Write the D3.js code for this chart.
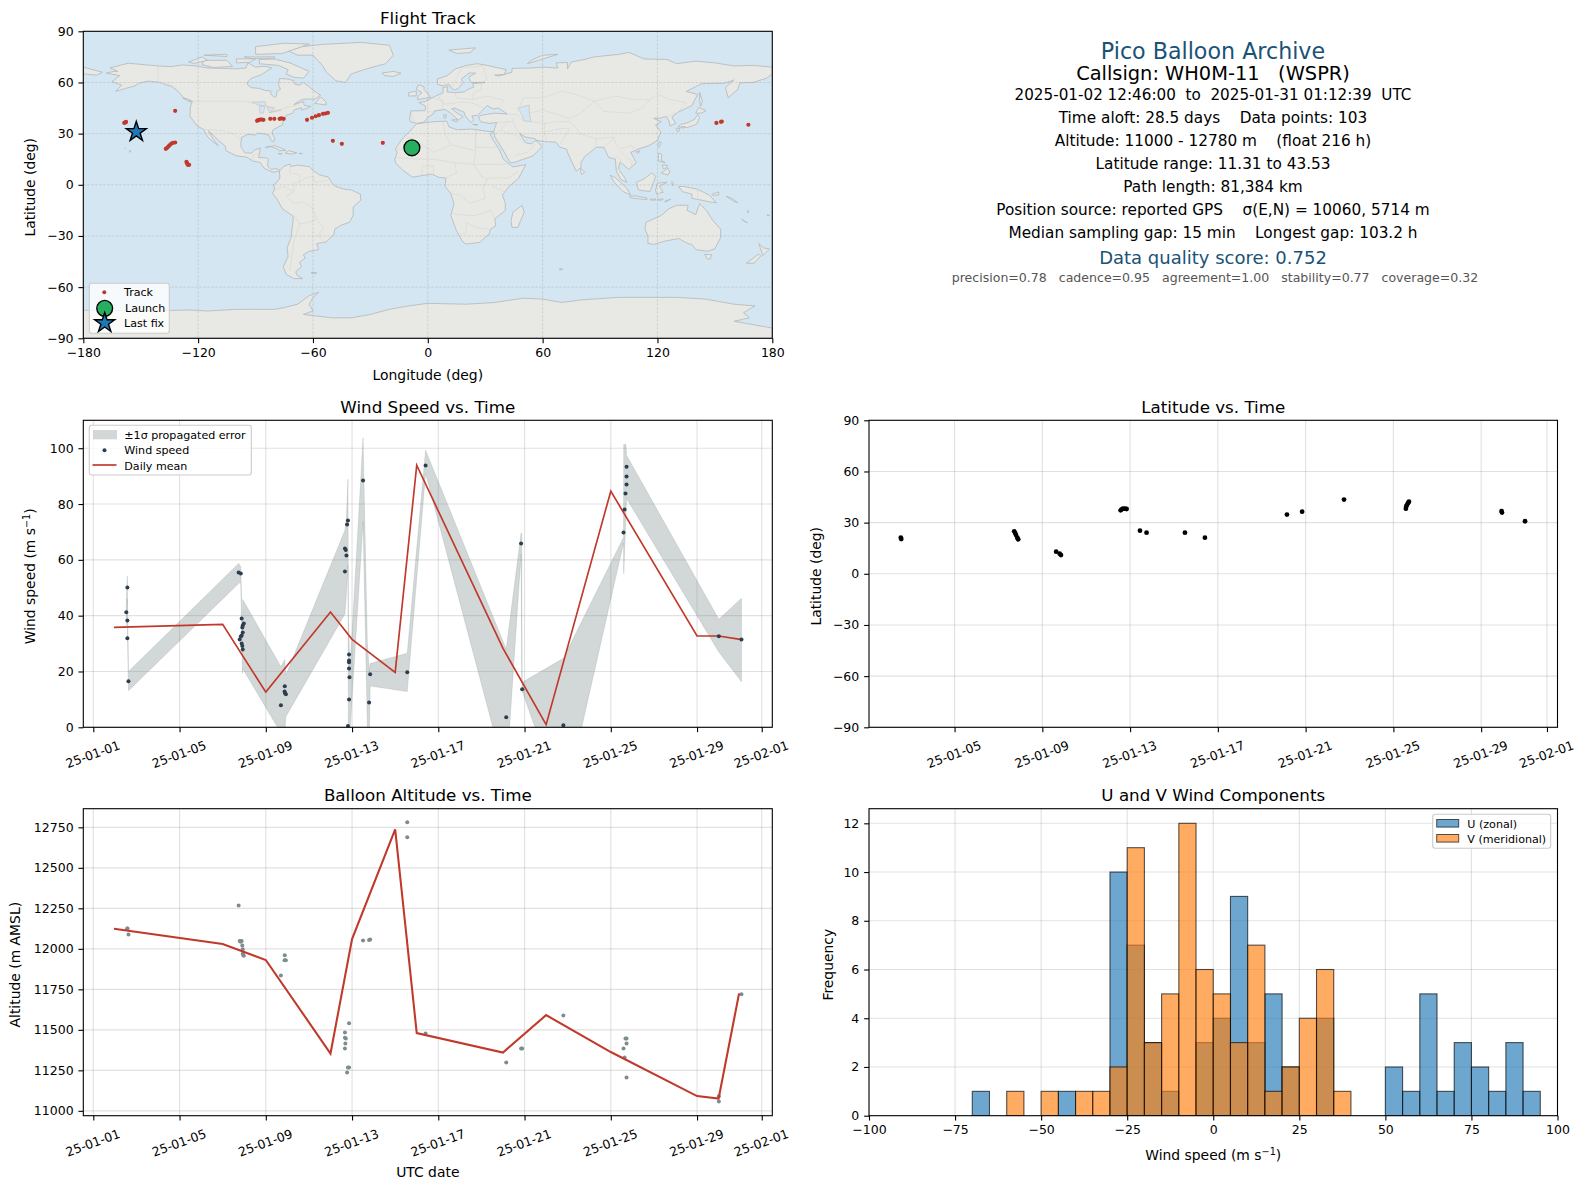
<!DOCTYPE html>
<html>
<head>
<meta charset="utf-8">
<script src="https://cdn.jsdelivr.net/npm/d3@7"></script>
<style>
  body { margin: 0; background: #fff; }
  svg text { font-family: "DejaVu Sans", sans-serif; fill: #000; }
  .tick text { font-size: 12.5px; }
  .tick line { stroke: #000; stroke-width: 1.1; }
</style>
</head>
<body>
<div id="chart"></div>
<script>
// all times are fractional days of January 2025 (32 = 1 Feb)
var trackLon = [-158.6, -157.9, -157.7, -132, -136.9, -136.2, -135.5, -134.8, -134, -133.1, -132, -126.1, -125.8, -125.4, -124.7,
    -89.2, -88.7, -88.1, -87.4, -86.7, -85.9, -82.3, -80.2, -77.4, -76.5, -75.3, -63.1, -60.5, -58.6, -56.9, -54.8, -53.6, -52.2,
    -49.6, -44.9, -23.5, 150.8, 153.2, 153.6, 167.5];
var trackLat = [36.3, 36.6, 36.9, 43.4, 21.1, 21.7, 22.5, 23.3, 24.2, 24.6, 24.8, 13.5, 12.7, 11.7, 11.7,
    37.5, 37.9, 38.1, 38.3, 38.3, 38.1, 38.7, 38.7, 38.7, 38.9, 38.7, 38.1, 39.3, 40.2, 40.8, 41.6, 41.8, 42.2,
    25.8, 24, 24.6, 36.3, 36.9, 37.1, 35.2];
var launchPos = [-8.3, 21.7];
var lastFixPos = [-152.3, 31];

var windDay = [2.58, 2.53, 2.58, 2.58, 2.63, 7.74, 7.84, 7.88, 7.98, 7.93, 7.91, 7.93, 7.88, 7.84, 7.79, 7.88, 7.91, 7.93,
    9.88, 9.87, 9.9, 9.93, 9.7, 12.67, 12.71, 12.74, 12.67, 12.77, 12.81, 12.86, 12.86, 12.86, 12.86, 12.88, 12.86, 12.81,
    13.51, 13.84, 13.79, 15.56, 16.41, 20.15, 20.84, 20.89, 22.8, 25.59, 25.64, 25.68, 25.73, 25.73, 25.73, 30.01, 31.06];
var windSpeed = [50.1, 41.2, 38.3, 31.9, 16.5, 55.5, 55.1, 39, 37.2, 36.5, 35.8, 34, 32.9, 32.5, 31.5, 30, 29.1, 27.9,
    14.7, 12.8, 12.2, 11.8, 7.9, 64.1, 63.5, 61.6, 55.8, 72.7, 74.1, 26.1, 23.9, 23.3, 21.1, 17.9, 10, 0.5,
    88.4, 19, 8.9, 19.7, 93.8, 3.6, 65.9, 13.6, 0.7, 69.8, 78, 83.8, 87, 89.9, 93.4, 32.6, 31.5];

// propagated error band outline
var bandDay = [2.53, 2.58, 2.59, 2.63, 7.74, 7.84, 7.88, 7.92, 7.93, 9.7, 9.88, 9.93, 12.67, 12.74, 12.81, 12.83, 12.86, 12.9,
    13.51, 13.71, 13.8, 13.84, 15.56, 16.41, 20.15, 20.84, 20.87, 20.89, 22.8, 25.59, 25.6, 25.7, 25.73, 30.01, 31.06];
var bandUpper = [46, 54.3, 43, 20, 58.7, 57.5, 43, 35, 45.8, 21.7, 24.3, 18.7, 70.6, 75.4, 88.9, 40, 33, 20,
    103.7, 30, 20, 22.9, 26.5, 99.3, 28, 69.7, 69, 16.1, 24.7, 68, 101.3, 101.3, 97.5, 38.7, 46.2];
var bandLower = [36.5, 45.9, 33, 13.1, 51.5, 52, 35, 19.3, 21, -2, -2, 3.8, 40.6, 48, 58, 0, -2, -2,
    73.6, 0, -5, 14.8, 12.8, 91, -18, 62, 17, 13, -29, 66, 55, 75, 82, 27, 16.3];

var meanDay = [1.96, 7, 9, 12, 13, 15, 16, 20, 22, 25, 29, 30, 31];
var meanWind = [35.8, 36.9, 12.6, 41.3, 31.5, 19.7, 93.9, 28.3, 0.95, 84.6, 32.7, 32.7, 31.5];
var meanAltDay = [1.96, 7, 9, 12, 13, 15, 16, 20, 22, 25, 29, 30, 30.95];
var meanAlt = [12124, 12030, 11931, 11354, 12060, 12738, 11480, 11360, 11591, 11363, 11091, 11076, 11725];

var altDay = [2.57, 2.59, 2.63, 7.74, 7.79, 7.88, 7.84, 7.91, 7.93, 7.95, 7.98, 7.93, 9.88, 9.87, 9.93, 9.7,
    12.86, 12.67, 12.67, 12.71, 12.69, 12.67, 12.86, 12.81, 12.77, 13.51, 13.79, 13.84, 15.56, 15.56, 16.41,
    20.15, 20.84, 20.89, 22.8, 25.68, 25.73, 25.73, 25.59, 25.64, 25.73, 30.01, 30.01, 31.06];
var altValue = [12126, 12126, 12089, 12268, 12048, 12048, 12044, 12021, 11997, 11962, 11957, 11970, 11960, 11929, 11929, 11836,
    11540, 11484, 11451, 11447, 11416, 11385, 11268, 11268, 11237, 12052, 12054, 12058, 12781, 12688, 11478,
    11299, 11385, 11385, 11589, 11447, 11447, 11416, 11385, 11330, 11206, 11090, 11058, 11719];

var latDay = [2.55, 2.57, 7.72, 7.76, 7.8, 7.86, 7.9, 9.63, 9.79, 9.85, 12.57, 12.62, 12.67, 12.76, 12.84, 13.45, 13.75, 15.5, 16.41,
    20.15, 20.84, 22.75, 25.57, 25.59, 25.63, 25.67, 25.71, 29.93, 29.95, 31];
var latValue = [21.2, 20.4, 24.9, 23.9, 22.8, 21.2, 20.2, 13, 11.8, 11, 37.2, 37.8, 38.2, 38.2, 38, 25.3, 24.1, 24.1, 21.2,
    34.7, 36.4, 43.5, 38.2, 39.6, 40.6, 41.5, 42.3, 36.8, 35.9, 30.8];

var histBins = d3.range(-100, 100, 5);
var uCounts = [0, 0, 0, 0, 0, 0, 1, 0, 0, 0, 0, 1, 0, 0, 10, 7, 3, 1, 0, 3, 4, 9, 3, 5, 2, 0, 4, 0, 0, 0, 2, 1, 5, 1, 3, 2, 1, 3, 1, 0];
var vCounts = [0, 0, 0, 0, 0, 0, 0, 0, 1, 0, 1, 0, 1, 1, 2, 11, 3, 5, 12, 6, 5, 3, 7, 1, 2, 4, 6, 1, 0, 0, 0, 0, 0, 0, 0, 0, 0, 0, 0, 0];

var infoLines = [
    { text: "Pico Balloon Archive", size: 22.2, y: 58.5, color: "#1a5276" },
    { text: "Callsign: WH0M-11   (WSPR)", size: 19.4, y: 80, color: "#000" },
    { text: "2025-01-02 12:46:00  to  2025-01-31 01:12:39  UTC", size: 15.2, y: 100, color: "#000" },
    { text: "Time aloft: 28.5 days    Data points: 103", size: 15.3, y: 123, color: "#000" },
    { text: "Altitude: 11000 - 12780 m    (float 216 h)", size: 15.3, y: 146, color: "#000" },
    { text: "Latitude range: 11.31 to 43.53", size: 15.3, y: 169, color: "#000" },
    { text: "Path length: 81,384 km", size: 15.3, y: 192, color: "#000" },
    { text: "Position source: reported GPS    \u03c3(E,N) = 10060, 5714 m", size: 15.3, y: 215, color: "#000" },
    { text: "Median sampling gap: 15 min    Longest gap: 103.2 h", size: 15.3, y: 238, color: "#000" },
    { text: "Data quality score: 0.752", size: 18, y: 263.5, color: "#1a5276" },
    { text: "precision=0.78   cadence=0.95   agreement=1.00   stability=0.77   coverage=0.32", size: 12.55, y: 282, color: "#555", shift: 2 }
];

// rough coastlines, lon/lat
var landPolygons = [
    // North America
    [[-168,65.5],[-164,66.5],[-162,66.5],[-166,68.5],[-156.5,71.3],[-148,70.4],[-140,69.6],[-134,69.3],[-128,70.3],[-120,69.5],[-115,68.5],[-108,68.3],[-100,68],[-95,68.5],[-94,71.5],[-90,69],[-85,69.5],[-81.5,68.5],[-85,66],[-87,64.5],[-92,62.5],[-94.5,60],[-94,58.5],[-92.5,57],[-88,56.5],[-85,55.3],[-82,55],[-82,53],[-80,51.3],[-79,52],[-79,54.5],[-77,56],[-78,58.7],[-77.5,62.3],[-73,62],[-70,61],[-69.5,59],[-67,58.5],[-65,60],[-62,57.5],[-60,55.5],[-56,52.5],[-59,50.3],[-65,50.2],[-67,49.3],[-70,47],[-65,48.8],[-64.5,46.5],[-61,46],[-64,44.5],[-66,44],[-66,45.2],[-67,45],[-70,43.7],[-70.5,42],[-74,40.7],[-75.5,38],[-76,35],[-78,34],[-81,32],[-81.3,30.5],[-80,27],[-80.5,25.2],[-81.8,26],[-83,29],[-85,29.7],[-89,30.3],[-90,29.2],[-94,29.6],[-97.3,27.8],[-97.7,24],[-97.5,22],[-95.5,18.7],[-92,18.6],[-90.5,20.5],[-87.5,21.5],[-88,18],[-88.5,16],[-84,15.8],[-83.3,14.9],[-83.7,11],[-82,9],[-79.5,9.5],[-77.3,8.6],[-77.5,7.5],[-78.5,8],[-80.4,7.3],[-83,8.2],[-85.7,10],[-87.5,13],[-91.5,14],[-94.5,16.2],[-100,17],[-105.5,20],[-105.7,22.5],[-109.3,26],[-112.5,29.5],[-114.7,31.7],[-112,26.5],[-109.5,23],[-112,25],[-115,28],[-117.2,32.5],[-120.5,34.5],[-122.5,37.5],[-124.3,40.3],[-124,46],[-123,49],[-127.5,51],[-130.3,54.5],[-133.5,57.5],[-137,58.7],[-140,60],[-146,60.8],[-151,59.5],[-153,58],[-158,56.5],[-163,54.8],[-160,58.5],[-165,60.5],[-161,64]],
    // Greenland and the arctic islands
    [[-73,78.5],[-66,81],[-55,82.3],[-35,83.5],[-20,81.8],[-18,76],[-22,71],[-32,68],[-40,65],[-43,60],[-48,61],[-53,66],[-55,70],[-60,76],[-68,76]],
    [[-80,73.7],[-72,71.5],[-67,69],[-62,66.5],[-65,62.5],[-70,63],[-74,65],[-73,67.5],[-78,70],[-88,71],[-88,73.5]],
    [[-117,73],[-105,73],[-102,69.5],[-112,68.7],[-118,70.5]],
    [[-125,72],[-118,75],[-115,73],[-122,71.2]],
    [[-90,76.5],[-76,77],[-62,82.5],[-75,83],[-90,81]],
    [[-96,75],[-80,75],[-80,74.3],[-92,74]],
    [[-117,76],[-105,75.2],[-105,76.5]],
    [[-100,73.8],[-90,73.8],[-93,71.8],[-100,71.5]],
    [[-59,47.7],[-53,46.8],[-53.5,49],[-56,51.5]],
    [[-128,50.7],[-124,48.5],[-123.5,48.7],[-125.5,50.3]],
    // Caribbean, Hawaii
    [[-85,21.9],[-80,23],[-75,20.7],[-74.2,20.2],[-77.7,19.9],[-78,20.7],[-82,22.4]],
    [[-74.4,18.5],[-72.7,20],[-68.5,18.7],[-71,18]],
    [[-78.3,18.4],[-76.3,18.2],[-77,17.8]],
    [[-67.2,18.5],[-65.7,18.4],[-66,18]],
    [[-156,20.2],[-155,19.7],[-155.6,19]],
    [[-158.2,21.6],[-157.7,21.3],[-158.1,21.3]],
    // Iceland, Svalbard, Novaya Zemlya
    [[-24,65.5],[-18,66.5],[-14,65.5],[-18,63.5],[-22.5,64]],
    [[11,79],[25,80.3],[22,77.5],[15,77]],
    [[52,71],[68,76.5],[60,76],[54,73]],
    // South America
    [[-77.5,8],[-75,11],[-72,12.2],[-71.5,10.7],[-68,11.5],[-62,10.7],[-60,8.5],[-57,6],[-52,4.5],[-50,1],[-48,-1],[-44,-2.5],[-40,-3],[-35.2,-5.5],[-35,-9],[-39,-13],[-39,-18],[-41,-22],[-45,-23.5],[-48.6,-26],[-49,-29],[-53,-33.5],[-58,-34.5],[-57,-38],[-62,-39],[-65,-41],[-64,-43],[-67,-45.5],[-66,-48],[-69,-51],[-68.3,-53],[-65.5,-55],[-70,-55],[-74,-52.5],[-75.5,-48],[-73,-42],[-73.5,-37],[-71.5,-31],[-70.3,-20],[-70.5,-18.3],[-76,-14],[-79,-8],[-81.2,-5],[-80,-2.5],[-80.5,0],[-78.8,1.5],[-77.3,4]],
    [[-61,-51.5],[-58,-51.5],[-59,-52.3]],
    // Africa, Madagascar
    [[-5.8,35.8],[3,37],[10,37.3],[11,34],[15,32.3],[20,32.5],[23,32.7],[32,31.2],[34.3,31.3],[32.5,29.8],[34,26.5],[37.2,21],[39.5,15],[43.3,11.5],[44.5,10.5],[51.2,11.8],[47.5,4],[42,-1.5],[39,-6],[40.5,-11],[40.5,-15],[35,-20],[35.5,-24],[32.8,-26],[32,-29],[27,-33.8],[20,-34.8],[18.3,-33.5],[15,-27],[12,-18],[13.7,-11],[12,-5],[9,-1],[9.5,4],[6,4.3],[2,6.3],[-4,5.2],[-8,4.5],[-13,8.5],[-16.7,12.5],[-17.3,14.7],[-16,19],[-17,21],[-13,27.5],[-9.7,31]],
    [[49.3,-12],[50.4,-16],[47,-25],[44,-25],[43.5,-21],[44.5,-16]],
    // Eurasia
    [[-9,37],[-9.5,38.7],[-8.8,43.3],[-1.5,43.5],[-1,46],[-4.7,48.3],[-1.5,48.7],[1.5,50.5],[4,52],[8,54],[8,57],[10.5,57.5],[10,54.5],[14,54],[19,54.5],[21,56],[24,57.3],[23.5,59.3],[30,60],[22.5,60],[21.3,63],[25,65.5],[21.5,65.5],[17.5,62],[18.5,60],[16,56.5],[14,55.5],[12.5,56.5],[11,59],[8,58],[5,59],[5,62],[10,64],[14.5,68],[20,70],[26,71],[31,70],[41,67.5],[40,64.7],[35,64.3],[37,63.8],[44,66],[44,68.3],[54,68.5],[60,69],[68,68.5],[67,71.5],[73,71.7],[73,68],[75,72],[82,73.5],[87,75],[100,76.5],[105,77.7],[113,73.8],[125,73.5],[130,71],[140,72.5],[150,71.5],[160,69.7],[170,70],[180,69],[180,65],[177,62.5],[170,60],[163,59.8],[162,56],[157,51],[155.5,57],[160,61.5],[155,59.5],[143,59.3],[135,54.7],[141,53],[138,46.5],[130.7,42.5],[127.5,39.7],[129.5,36],[126.5,34.5],[126,37.5],[124.5,40],[121,39],[118,39],[122,37],[119,35],[121.8,31],[120,26],[115,22.7],[110,21],[106,19],[109,13],[105,9],[103,11],[100.5,13.5],[99.5,9.5],[103,4],[104,1.5],[101,3],[98.5,8],[98,15],[94.5,16],[92,22],[88,22],[82,16.5],[80,13],[80,10],[77.5,8],[73,19],[72.5,21],[69,22],[67,25],[61,25.3],[57,26],[56,27],[51,28],[48,30],[50,26.5],[51.5,24.5],[54,24],[56.5,26],[59.7,22.5],[55,17],[45,13],[43,13],[39,21],[35,28],[34.5,31.5],[36,36.5],[32,36],[27.5,37],[26.5,40],[29,41],[35,42],[41.5,41.5],[37,45],[34,44.5],[31,46.5],[28,43],[26,40.8],[23,40.3],[24,38],[22.5,36.5],[19.5,40.5],[19,42.5],[14,45],[12.5,44.5],[16,41.5],[18.5,40],[16,38],[12,42],[9,44.2],[3.5,43.3],[3,41.7],[0,39.5],[-2,36.8],[-5.5,36]],
    [[-180,69],[-170,66],[-173,64.3],[-180,65]],
    // islands of Europe and Asia
    [[-5.5,50],[1.5,51.2],[0,53.5],[-2,56],[-2,57.6],[-5,58.6],[-6,56],[-3,54],[-5,52]],
    [[-10,52],[-6,52.2],[-6,55],[-10,54]],
    [[12.5,38],[15.5,38.2],[15,36.7]],
    [[8.3,41],[9.7,41],[9.5,39.2],[8.5,39]],
    [[23.5,35.5],[26.2,35.2],[24.8,35]],
    [[130.8,34],[135.5,33.5],[140.5,35.5],[142,39.5],[141,41.3],[139.5,38.5],[136,36.5],[132,35.3]],
    [[130,33.3],[131.8,33],[131,31.2],[130.2,31.5]],
    [[132.5,34],[134.5,34.2],[133.5,33]],
    [[140,42],[141.5,45.3],[145.3,43.5],[143,42]],
    [[142,54.3],[143.5,49],[142.5,46],[142,50]],
    [[121,25.2],[122,25],[120.8,22],[120,23.2]],
    [[108.7,19.3],[110.8,20],[110,18.4]],
    [[120.5,18.5],[122.2,18],[122,14.3],[124,13],[120.5,14]],
    [[122,7],[125.5,9.7],[126.5,7.5],[125.5,5.7]],
    [[122.5,11.5],[125,11.5],[125,10],[123,9.5]],
    [[109,1.5],[113,3.5],[117,7],[119,5],[117.8,1],[116,-4],[110,-3]],
    [[95.3,5.6],[98,4.2],[104,-2],[106,-6],[102,-4],[97,2]],
    [[105.2,-6.8],[108.5,-6.5],[114.5,-7.7],[114.5,-8.7],[106,-7.7]],
    [[119.5,-5.5],[119,-3],[120,1],[125,1.5],[121,-0.8],[123,-4.5],[121.5,-4.5],[120.5,-5.5]],
    [[116,-8.5],[119,-8.3],[119,-9],[116.5,-9]],
    [[120,-8.5],[123,-8.3],[122.5,-9],[120,-9]],
    [[124,-9.5],[127,-8.4],[124,-10.2]],
    [[127.5,2],[128.5,1],[128,-0.5],[127.5,0.5]],
    [[131,-1],[134,-1],[141,-2.7],[147,-6],[150.8,-10.5],[147,-10],[143,-9],[138,-8],[138,-5.5],[133,-4]],
    [[148.5,-5.5],[152,-4.2],[152,-6],[149,-6.2]],
    [[156,-6.8],[159,-8],[162,-10.5],[160,-9.7]],
    [[80,9.7],[82,7.3],[80.5,6],[79.8,8]],
    // Australia and New Zealand
    [[114,-22],[122,-18],[126,-14],[130,-12],[136,-12],[135.5,-15],[140,-17.5],[142,-11],[145.5,-15],[149,-21],[153,-26],[153,-31],[150,-37.5],[146,-39],[140,-38],[138,-35],[136,-34.5],[131,-31.5],[124,-33],[118,-35],[115,-34.3],[115,-30],[113.5,-26]],
    [[144.7,-40.8],[148.3,-41],[147.5,-43.5],[146,-43.5]],
    [[173,-34.5],[175.5,-37],[178.5,-37.7],[175,-41.5],[174.5,-39.5]],
    [[172.7,-40.6],[174,-41.7],[170.5,-46],[166.5,-46],[170,-43]],
    [[164,-20.2],[167,-22.3],[165.5,-21.5]],
    [[167,-15],[167.8,-16],[167.3,-16.3]],
    [[177.3,-17.5],[178.6,-18],[177.5,-18.3]],
    [[69,-49],[70.5,-49.5],[69,-50]],
    // Antarctica
    [[-180,-73.5],[-165,-73.8],[-150,-73.5],[-140,-73.8],[-125,-73.4],[-115,-74],[-100,-73],[-90,-73],[-80,-73],[-75,-72],[-68,-70],[-62,-65],[-57,-63],[-60,-66],[-62,-70],[-60,-74],[-65,-76],[-50,-78],[-40,-78],[-30,-76],[-20,-73],[-10,-71],[0,-69.5],[20,-70],[35,-69],[50,-66.5],[60,-67],[70,-69],[80,-67.5],[100,-66],[110,-66],[130,-66],[145,-67],[160,-70],[171,-71],[165,-75],[168,-78],[160,-80],[180,-84],[180,-90],[-180,-90]]
];
var inlandSeas = [
    [[47,45],[53,46.7],[53,42],[54,37],[50,37.5],[49.5,40.5]],
    [[-92,48.5],[-85,48.7],[-84.5,46.5],[-88,46.5]],
    [[-88,46],[-85,46],[-86,42],[-87.7,42]],
    [[-84,46],[-80,45],[-82,43],[-83.5,43.8]],
    [[-83,42.3],[-79,43],[-76.5,44],[-79.5,43.6]]
];
var borderLines = [
    [[-123,49],[-95,49],[-84,46],[-79,43],[-75,45],[-70,46],[-67.5,47]],
    [[-141,69.6],[-141,60],[-135,59],[-130,55]],
    [[-117,32.5],[-106.5,31.7],[-101,29.5],[-97.5,26]],
    [[-92,14.5],[-91,17.5],[-89,18]],
    [[-70,-11],[-74,-7],[-70,-4],[-70,1],[-67,1.5],[-64,4],[-60,5],[-59,1.5],[-52,2.5]],
    [[-70,-11],[-65,-10],[-60,-14],[-58,-20],[-54.5,-25.5],[-57.5,-30],[-53.5,-33.5]],
    [[-70,-18],[-67,-23],[-70,-33],[-72,-50]],
    [[-58,-20],[-62,-22],[-67,-23]],
    [[-72,12],[-72,7],[-67,6],[-67,1.5]],
    [[-80,-3],[-75,-1],[-70,-4]],
    // Africa
    [[-13,27.5],[-8.7,27.5],[-4.8,25],[3,19],[12,23.5],[25,20],[25,32]],
    [[-17,21],[-13,21],[-5,25]],
    [[-16,16],[-5,15],[3,15],[14,13],[24,12],[36,12],[43,12]],
    [[25,20],[24,12],[28,5],[31,3.5],[34,4],[42,4],[47.5,8]],
    [[9,4],[15,7],[14,13]],
    [[-3,5.5],[-3,11],[3,11],[3,6]],
    [[12,-5],[17,-6],[22,-11],[30,-8],[29,-2],[31,3.5]],
    [[12,-17],[22,-18],[25,-18],[33,-15],[35,-20]],
    [[16,-29],[20,-28],[20,-22],[25,-25],[32,-26]],
    [[34,-1],[40,-4]],
    [[25,32],[25,22],[37,22]],
    [[8,37],[9,30],[12,23.5]],
    // Europe and Asia
    [[-1.8,43.3],[3,42.5]],
    [[-8.8,42],[-7,37]],
    [[2.5,51],[8,49],[7.5,44]],
    [[7,53.5],[6,51],[8,47.5],[13,47.5],[16,48.5],[23,48],[29,45.3]],
    [[14,54],[15,51],[23,50],[24,54],[28,56],[28,60]],
    [[23,50],[31,52],[40,49.5],[38,47]],
    [[12,56],[18,69],[25,69],[29,70]],
    [[29,69],[31,62],[28,60]],
    [[48,46],[50,51],[60,51],[70,55],[77,53],[87,49],[98,52],[107,50],[116,50],[120,53],[127,50],[135,48],[131,43]],
    [[87,49],[92,43],[105,42],[112,45],[116,50]],
    [[53,42],[60,44],[68,41],[74,39],[80,42],[87,49]],
    [[54,37],[61,36],[67,37],[74,37]],
    [[61,36],[61,31],[62,25]],
    [[74,37],[78,33],[79,30],[88,27],[97,28],[98,24],[101,21],[106,23],[108,21.7]],
    [[61,31],[70,33],[74,33],[71,27],[69,24]],
    [[88,27],[88,22]],
    [[92,22],[98,28]],
    [[100,20],[105,15],[107,14],[106,10]],
    [[98,17],[101,15],[100,7]],
    [[36,36.5],[42,37],[44.5,37],[46,33],[48,30]],
    [[42,37],[38,32],[35,29.5]],
    [[38,32],[46,29],[51,24]],
    [[45,17],[52,19],[55,22],[56,24]],
    [[41.5,41.5],[47,41],[49,38.5]],
    [[44.5,37],[45,39.5]],
    [[124.5,40],[130.7,42.5]],
    [[141,-2.7],[141,-9]]
];

var width = 1588, height = 1189;
var msPerDay = 864e5;
function toDate(day) { return new Date(Date.UTC(2025, 0, 1) + (day - 1) * msPerDay); }

var dateLabel = d3.utcFormat("%y-%m-%d");
var mapBox = { x0: 83.3, x1: 772.3, y0: 31.3, y1: 338.3 };
var windBox = { x0: 83.3, x1: 772.3, y0: 420.3, y1: 727.3 };
var latBox = { x0: 869, x1: 1557.5, y0: 420.3, y1: 727.3 };
var altBox = { x0: 83.3, x1: 772.3, y0: 808.7, y1: 1115.7 };
var histBox = { x0: 869, x1: 1557.5, y0: 808.7, y1: 1115.7 };

var svg = d3.select("#chart").append("svg")
    .attr("width", width)
    .attr("height", height);

function drawTitle(box, title) {
    svg.append("text")
        .attr("x", (box.x0 + box.x1) / 2)
        .attr("y", box.y0 - 7.6)
        .attr("text-anchor", "middle")
        .style("font-size", "16.7px")
        .text(title);
}

function drawXLabel(box, y, label) {
    return svg.append("text")
        .attr("x", (box.x0 + box.x1) / 2)
        .attr("y", y)
        .attr("text-anchor", "middle")
        .style("font-size", "13.9px")
        .text(label);
}

function drawYLabel(box, x, label) {
    return svg.append("text")
        .attr("transform", "translate(" + x + "," + ((box.y0 + box.y1) / 2 + 2.5) + ") rotate(-90)")
        .attr("text-anchor", "middle")
        .style("font-size", "13.9px")
        .text(label);
}

// "(m s-1)" with a raised exponent
function addUnitTspans(sel) {
    sel.append("tspan").text("Wind speed (m s");
    sel.append("tspan").attr("dy", -5).style("font-size", "9.7px").text("\u22121");
    sel.append("tspan").attr("dy", 5).text(")");
}

function drawGrid(g, box, x, y, xTicks, yTicks, dash) {
    g.selectAll(".gx").data(xTicks).enter().append("line")
        .attr("x1", x).attr("x2", x)
        .attr("y1", box.y0).attr("y2", box.y1)
        .attr("stroke", dash ? "#9a9a9a" : "#b0b0b0")
        .attr("stroke-opacity", dash ? 0.45 : 0.38)
        .attr("stroke-dasharray", dash)
        .attr("stroke-width", dash ? 0.7 : 1.1);
    g.selectAll(".gy").data(yTicks).enter().append("line")
        .attr("x1", box.x0).attr("x2", box.x1)
        .attr("y1", y).attr("y2", y)
        .attr("stroke", dash ? "#9a9a9a" : "#b0b0b0")
        .attr("stroke-opacity", dash ? 0.45 : 0.38)
        .attr("stroke-dasharray", dash)
        .attr("stroke-width", dash ? 0.7 : 1.1);
}

function drawAxes(box, x, y, xTicks, yTicks, xFormat, rotateX) {
    var gx = svg.append("g")
        .attr("transform", "translate(0," + box.y1 + ")")
        .call(d3.axisBottom(x).tickValues(xTicks).tickFormat(xFormat).tickSize(4.86).tickPadding(4.86));
    var gy = svg.append("g")
        .attr("transform", "translate(" + box.x0 + ",0)")
        .call(d3.axisLeft(y).tickValues(yTicks).tickFormat(d3.format("d")).tickSize(4.86).tickPadding(4.86));
    gx.select(".domain").remove();
    gy.select(".domain").remove();
    gx.selectAll("text").style("font-family", "DejaVu Sans");
    gy.selectAll("text").style("font-family", "DejaVu Sans");
    if (rotateX) {
        gx.selectAll(".tick text")
            .attr("y", 0)
            .attr("dy", "0.36em")
            .attr("transform", "translate(-1,27) rotate(-20)");
    }
    svg.append("rect")
        .attr("x", box.x0).attr("y", box.y0)
        .attr("width", box.x1 - box.x0)
        .attr("height", box.y1 - box.y0)
        .attr("fill", "none")
        .attr("stroke", "#000")
        .attr("stroke-width", 1.1);
}

function makeClip(id, box) {
    svg.append("clipPath").attr("id", id).append("rect")
        .attr("x", box.x0).attr("y", box.y0)
        .attr("width", box.x1 - box.x0)
        .attr("height", box.y1 - box.y0);
    return svg.append("g").attr("clip-path", "url(#" + id + ")");
}

function legendBox(g, x, y, w, h) {
    g.append("rect")
        .attr("x", x).attr("y", y)
        .attr("width", w).attr("height", h)
        .attr("rx", 2.5)
        .attr("fill", "#fff")
        .attr("fill-opacity", 0.8)
        .attr("stroke", "#ccc")
        .attr("stroke-width", 1.1);
}

function legendText(g, x, y, label) {
    g.append("text")
        .attr("x", x).attr("y", y + 4)
        .style("font-size", "11.1px")
        .text(label);
}

/* Flight track map */
function drawMap() {
    var box = mapBox;
    var x = d3.scaleLinear().domain([-180, 180]).range([box.x0, box.x1]);
    var y = d3.scaleLinear().domain([-90, 90]).range([box.y1, box.y0]);
    var xTicks = d3.range(-180, 181, 60);
    var yTicks = d3.range(-90, 91, 30);
    var g = makeClip("clip-map", box);

    g.append("rect")
        .attr("x", box.x0).attr("y", box.y0)
        .attr("width", box.x1 - box.x0)
        .attr("height", box.y1 - box.y0)
        .attr("fill", "#d4e6f1");

    var line = d3.line().x(function (d) { return x(d[0]); }).y(function (d) { return y(d[1]); });

    g.selectAll(".land").data(landPolygons).enter().append("path")
        .attr("d", function (d) { return line(d) + "Z"; })
        .attr("fill", "#e8e8e4")
        .attr("stroke", "#b4b8ba")
        .attr("stroke-width", 0.8);

    g.selectAll(".sea").data(inlandSeas).enter().append("path")
        .attr("d", function (d) { return line(d) + "Z"; })
        .attr("fill", "#d4e6f1")
        .attr("stroke", "#b4b8ba")
        .attr("stroke-width", 0.5);

    g.selectAll(".border").data(borderLines).enter().append("path")
        .attr("d", line)
        .attr("fill", "none")
        .attr("stroke", "#d6d6d2")
        .attr("stroke-width", 0.6);

    drawGrid(g, box, x, y, xTicks, yTicks, "2.5,1.5");

    g.selectAll(".track").data(trackLon).enter().append("circle")
        .attr("cx", function (d) { return x(d); })
        .attr("cy", function (d, i) { return y(trackLat[i]); })
        .attr("r", 2.1)
        .attr("fill", "#c0392b");

    g.append("circle")
        .attr("cx", x(launchPos[0])).attr("cy", y(launchPos[1]))
        .attr("r", 7.9)
        .attr("fill", "#27ae60").attr("stroke", "#000").attr("stroke-width", 1.4);

    var star = d3.symbol().type(d3.symbolStar).size(125);
    g.append("path")
        .attr("d", star)
        .attr("transform", "translate(" + x(lastFixPos[0]) + "," + y(lastFixPos[1]) + ")")
        .attr("fill", "#1f77b4").attr("stroke", "#000").attr("stroke-width", 1.4);

    drawTitle(box, "Flight Track");
    drawAxes(box, x, y, xTicks, yTicks, d3.format("d"));
    drawXLabel(box, 380, "Longitude (deg)");
    drawYLabel(box, 35, "Latitude (deg)");

    var lg = svg.append("g");
    legendBox(lg, 89.3, 283.3, 80, 50);
    lg.append("circle").attr("cx", 104.3).attr("cy", 292.3).attr("r", 2).attr("fill", "#c0392b");
    legendText(lg, 124, 292.3, "Track");
    lg.append("circle").attr("cx", 104.7).attr("cy", 308.3).attr("r", 7.9)
        .attr("fill", "#27ae60").attr("stroke", "#000").attr("stroke-width", 1.4);
    legendText(lg, 125, 308.3, "Launch");
    lg.append("path").attr("d", star).attr("transform", "translate(104.7,323)")
        .attr("fill", "#1f77b4").attr("stroke", "#000").attr("stroke-width", 1.4);
    legendText(lg, 124, 323.3, "Last fix");
}

/* Wind speed vs. time */
function drawWind() {
    var box = windBox;
    var x = d3.scaleUtc().domain([toDate(0.536), toDate(32.49)]).range([box.x0, box.x1]);
    var y = d3.scaleLinear().domain([0, 110]).range([box.y1, box.y0]);
    var xTicks = [1, 5, 9, 13, 17, 21, 25, 29, 32].map(toDate);
    var yTicks = d3.range(0, 101, 20);
    var g = makeClip("clip-wind", box);

    drawGrid(g, box, x, y, xTicks, yTicks);

    var area = d3.area()
        .x(function (d) { return x(toDate(d)); })
        .y0(function (d, i) { return y(bandLower[i]); })
        .y1(function (d, i) { return y(bandUpper[i]); });
    g.append("path")
        .attr("d", area(bandDay))
        .attr("fill", "#7f8c8d")
        .attr("fill-opacity", 0.35)
        .attr("stroke", "#7f8c8d")
        .attr("stroke-opacity", 0.2);

    var meanLine = d3.line()
        .x(function (d) { return x(toDate(d)); })
        .y(function (d, i) { return y(meanWind[i]); });
    g.append("path")
        .attr("d", meanLine(meanDay))
        .attr("fill", "none")
        .attr("stroke", "#c0392b")
        .attr("stroke-width", 1.67);

    g.selectAll(".dot").data(windDay).enter().append("circle")
        .attr("cx", function (d) { return x(toDate(d)); })
        .attr("cy", function (d, i) { return y(windSpeed[i]); })
        .attr("r", 2)
        .attr("fill", "#2c3e50");

    drawTitle(box, "Wind Speed vs. Time");
    drawAxes(box, x, y, xTicks, yTicks, dateLabel, true);
    drawYLabel(box, 35, "").call(addUnitTspans);

    var lg = svg.append("g");
    legendBox(lg, 89.3, 425.3, 162, 49.7);
    lg.append("rect").attr("x", 93).attr("y", 430).attr("width", 24).attr("height", 9.3)
        .attr("fill", "#7f8c8d").attr("fill-opacity", 0.35);
    legendText(lg, 124.3, 435.3, "\u00b11\u03c3 propagated error");
    lg.append("circle").attr("cx", 104.5).attr("cy", 450.3).attr("r", 2).attr("fill", "#2c3e50");
    legendText(lg, 124.3, 450.3, "Wind speed");
    lg.append("line").attr("x1", 92.5).attr("x2", 116.5).attr("y1", 465).attr("y2", 465)
        .attr("stroke", "#c0392b").attr("stroke-width", 1.67);
    legendText(lg, 124.3, 466, "Daily mean");
}

/* Latitude vs. time */
function drawLatitude() {
    var box = latBox;
    var x = d3.scaleUtc().domain([toDate(1.1), toDate(32.48)]).range([box.x0, box.x1]);
    var y = d3.scaleLinear().domain([-90, 90]).range([box.y1, box.y0]);
    var xTicks = [5, 9, 13, 17, 21, 25, 29, 32].map(toDate);
    var yTicks = d3.range(-90, 91, 30);
    var g = makeClip("clip-lat", box);

    drawGrid(g, box, x, y, xTicks, yTicks);

    g.selectAll(".dot").data(latDay).enter().append("circle")
        .attr("cx", function (d) { return x(toDate(d)); })
        .attr("cy", function (d, i) { return y(latValue[i]); })
        .attr("r", 2.4)
        .attr("fill", "#000");

    drawTitle(box, "Latitude vs. Time");
    drawAxes(box, x, y, xTicks, yTicks, dateLabel, true);
    drawYLabel(box, 821, "Latitude (deg)");
}

/* Balloon altitude vs. time */
function drawAltitude() {
    var box = altBox;
    var x = d3.scaleUtc().domain([toDate(0.536), toDate(32.49)]).range([box.x0, box.x1]);
    var y = d3.scaleLinear().domain([10970, 12865]).range([box.y1, box.y0]);
    var xTicks = [1, 5, 9, 13, 17, 21, 25, 29, 32].map(toDate);
    var yTicks = d3.range(11000, 12751, 250);
    var g = makeClip("clip-alt", box);

    drawGrid(g, box, x, y, xTicks, yTicks);

    g.selectAll(".dot").data(altDay).enter().append("circle")
        .attr("cx", function (d) { return x(toDate(d)); })
        .attr("cy", function (d, i) { return y(altValue[i]); })
        .attr("r", 2)
        .attr("fill", "#7f8c8d");

    var meanLine = d3.line()
        .x(function (d) { return x(toDate(d)); })
        .y(function (d, i) { return y(meanAlt[i]); });
    g.append("path")
        .attr("d", meanLine(meanAltDay))
        .attr("fill", "none")
        .attr("stroke", "#c0392b")
        .attr("stroke-width", 2.08);

    drawTitle(box, "Balloon Altitude vs. Time");
    drawAxes(box, x, y, xTicks, yTicks, dateLabel, true);
    drawXLabel(box, 1177, "UTC date");
    drawYLabel(box, 20, "Altitude (m AMSL)");
}

/* U and V histogram */
function drawHistogram() {
    var box = histBox;
    var x = d3.scaleLinear().domain([-100, 100]).range([box.x0, box.x1]);
    var y = d3.scaleLinear().domain([0, 12.6]).range([box.y1, box.y0]);
    var xTicks = d3.range(-100, 101, 25);
    var yTicks = d3.range(0, 13, 2);
    var g = makeClip("clip-hist", box);

    drawGrid(g, box, x, y, xTicks, yTicks);

    [{ counts: uCounts, color: "#1f77b4" }, { counts: vCounts, color: "#ff7f0e" }].forEach(function (s) {
        g.selectAll(".bar").data(histBins.filter(function (d, i) { return s.counts[i] > 0; }), function (d) { return d; })
            .enter().append("rect")
            .attr("x", function (d) { return x(d); })
            .attr("width", function (d) { return x(d + 5) - x(d); })
            .attr("y", function (d) { return y(s.counts[histBins.indexOf(d)]); })
            .attr("height", function (d) { return y(0) - y(s.counts[histBins.indexOf(d)]); })
            .attr("fill", s.color)
            .attr("fill-opacity", 0.65)
            .attr("stroke", "#000")
            .attr("stroke-opacity", 0.65)
            .attr("stroke-width", 1.1);
    });

    drawTitle(box, "U and V Wind Components");
    drawAxes(box, x, y, xTicks, yTicks, d3.format("d"));
    drawXLabel(box, 1160, "").call(addUnitTspans);
    drawYLabel(box, 833, "Frequency");

    var lg = svg.append("g");
    legendBox(lg, 1432.7, 814.3, 118, 34);
    lg.append("rect").attr("x", 1436.7).attr("y", 819.5).attr("width", 22).attr("height", 7.6)
        .attr("fill", "#1f77b4").attr("fill-opacity", 0.65).attr("stroke", "#000").attr("stroke-opacity", 0.65);
    legendText(lg, 1467.3, 824, "U (zonal)");
    lg.append("rect").attr("x", 1436.7).attr("y", 834.5).attr("width", 22).attr("height", 7.6)
        .attr("fill", "#ff7f0e").attr("fill-opacity", 0.65).attr("stroke", "#000").attr("stroke-opacity", 0.65);
    legendText(lg, 1467.3, 838.7, "V (meridional)");
}

function drawInfo() {
    svg.selectAll(".info").data(infoLines).enter().append("text")
        .attr("x", function (d) { return 1213 + (d.shift || 0); })
        .attr("y", function (d) { return d.y; })
        .attr("text-anchor", "middle")
        .style("font-size", function (d) { return d.size + "px"; })
        .style("fill", function (d) { return d.color; })
        .style("white-space", "pre")
        .attr("xml:space", "preserve")
        .text(function (d) { return d.text; });
}

drawMap();
drawInfo();
drawWind();
drawLatitude();
drawAltitude();
drawHistogram();
</script>
</body>
</html>
